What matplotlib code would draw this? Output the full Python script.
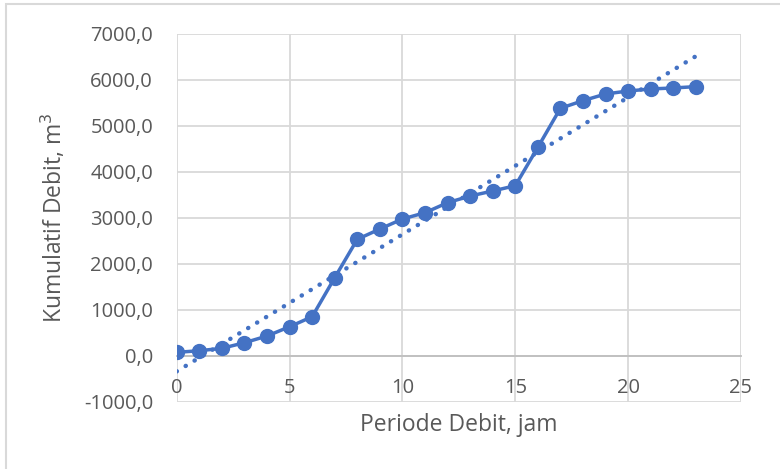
import numpy as np
import matplotlib.pyplot as plt
from matplotlib.ticker import FuncFormatter, MultipleLocator
from matplotlib.patches import Rectangle

# hours and cumulative discharge (m3)
jam = np.arange(0, 24)
kumulatif = [74, 109, 161, 283, 429, 631, 849, 1697, 2533, 2757, 2975, 3112,
             3330, 3475, 3584, 3700, 4535, 5384, 5550, 5695, 5760, 5804, 5826, 5855]

BLUE = '#4472C4'
GRID = '#D9D9D9'
TXT = '#595959'

plt.rcParams['font.family'] = ['Open Sans', 'DejaVu Sans']

fig = plt.figure(figsize=(7.8, 4.69), dpi=100)
ax = fig.add_axes([176.7 / 780, 1 - 401.7 / 469, (741 - 176.7) / 780, (401.7 - 34) / 469])

# linear trend
k, b = np.polyfit(jam, kumulatif, 1)
ax.plot(jam, k * jam + b, color=BLUE, lw=3.2, ls=(0, (0.05, 2.3)),
        dash_capstyle='round', zorder=3)

ax.plot(jam, kumulatif, color=BLUE, lw=2.5, marker='o', ms=10, zorder=4)

ax.set_xlim(0, 25)
ax.set_ylim(-1000, 7000)
ax.xaxis.set_major_locator(MultipleLocator(5))
ax.yaxis.set_major_locator(MultipleLocator(1000))
ax.yaxis.set_major_formatter(FuncFormatter(lambda v, p: f'{v:.1f}'.replace('.', ',')))

ax.grid(True, color=GRID, lw=1.3)
ax.set_axisbelow(True)
for s in ['top', 'right', 'left']:
    ax.spines[s].set_visible(False)
ax.spines['bottom'].set_position(('data', 0))
ax.spines['bottom'].set_color('#BFBFBF')
ax.spines['bottom'].set_linewidth(1.3)
ax.tick_params(axis='both', length=0, labelsize=14.5, colors=TXT)
ax.tick_params(axis='x', pad=16)
ax.tick_params(axis='y', pad=17)

ax.set_xlabel('Periode Debit, jam', fontsize=16.5, color=TXT)
ax.set_ylabel('Kumulatif Debit, m$^3$', fontsize=16.5, color=TXT)
ax.xaxis.set_label_coords(0.5, -0.03)
ax.yaxis.set_label_coords(-0.192, 0.5)

fig.patches.append(Rectangle((6 / 780, -0.1), 1.2, 1 - 4 / 469 + 0.1,
                             transform=fig.transFigure, fill=False,
                             edgecolor=GRID, lw=1.5))

fig.savefig('out.png', dpi=100)
